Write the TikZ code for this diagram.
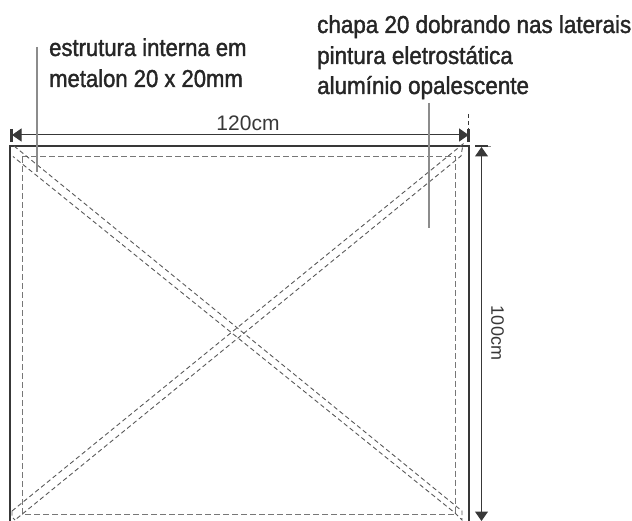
\documentclass[tikz,border=0pt]{standalone}
\usepackage{fontspec}
\setmainfont{Liberation Sans}
\newfontfamily\condfont[FakeStretch=0.90,FakeBold=1.5]{Liberation Sans}
\newfontfamily\widefont[FakeStretch=0.915,FakeBold=1.5]{Liberation Sans}
\usetikzlibrary{arrows.meta}
\definecolor{dk}{gray}{0.22}
\definecolor{gr}{gray}{0.55}
\tikzset{
  x=1pt,y=-1pt,
  note/.style={font=\condfont\fontsize{24.5}{31}\selectfont,align=left,inner sep=0pt,text=black!85,anchor=base west},
  noteb/.style={note,font=\widefont\fontsize{24.5}{31}\selectfont},
  dimlabel/.style={font=\fontsize{21}{23}\selectfont,inner sep=0pt,text=dk},
  dimlabelv/.style={font=\fontsize{18}{20}\selectfont,inner sep=0pt,text=dk},
  frameline/.style={draw=dk,line width=2pt},
  inner dash/.style={draw=gr!85!black,line width=1pt,dash pattern=on 6pt off 3pt},
  diag dash/.style={draw=black!65,line width=.9pt,dash pattern=on 4.5pt off 3pt},
  leader/.style={draw=gr,line width=1.2pt},
  dimline/.style={draw=dk,line width=1pt},
  dimarrow/.style={dimline,{Triangle[length=9.5pt,width=13pt]}-{Triangle[length=9.5pt,width=13pt]}},
  tick/.style={draw=dk,line width=2.4pt}
}
\begin{document}
\begin{tikzpicture}
\useasboundingbox (0,0) rectangle (632,521);
% frame
\coordinate (tl) at (9.5,146.5);
\coordinate (tr) at (468.5,146.5);
\coordinate (bl) at (9.5,521);
\coordinate (br) at (468.5,521);
\draw[frameline,line join=miter] (bl) -- (tl) -- (tr) -- (br);
% inner rectangle
\coordinate (il) at (22,157);
\coordinate (ir) at (455.5,157);
\coordinate (jl) at (22,514);
\coordinate (jr) at (455.5,514);
\draw[inner dash] (il) -- (ir) -- (jr) -- (jl) -- cycle;
% diagonals
\coordinate (a1) at (14,146);
\coordinate (a2) at (462,511);
\coordinate (b1) at (13,156.5);
\coordinate (b2) at (455,513);
\coordinate (c1) at (463,144);
\coordinate (c2) at (12,511);
\coordinate (d1) at (461,156);
\coordinate (d2) at (15,520);
\draw[diag dash] (a1) -- (a2) -- (462,520) -- (b2) -- (b1);
\draw[diag dash] (c2) -- (c1) -- (d1) -- (d2);
\draw[diag dash] (c2) -- (12,517) -- (d2);
% dimension 120cm
\coordinate (h1) at (12,135);
\coordinate (h2) at (468.6,135);
\draw[dimarrow] (h1) -- (h2);
\draw[tick] (11.5,129) -- (11.5,142);
\draw[tick] (468.6,129) -- (468.6,142);
\draw[draw=dk,line width=.8pt,dash pattern=on 4pt off 3pt] (468.6,114) -- (468.6,129);
\node[dimlabel] (wlabel) at (248,123) {120cm};
% dimension 100cm
\coordinate (v1) at (481.5,147);
\coordinate (v2) at (481.5,521);
\draw[dimarrow] (v1) -- (v2);
\draw[tick] (475,146) -- (488,146);
\draw[draw=gr,line width=.8pt] (488,146) -- (491,146);
\node[dimlabelv,rotate=-90] (hlabel) at (497.5,333) {100cm};
% notes
\node[note] (n1) at (49,56) {estrutura interna em};
\node[note] (n1b) at (49,87) {metalon 20 x 20mm};
\node[noteb] (n2) at (317,33) {chapa 20 dobrando nas laterais};
\node[noteb] (n2b) at (317,64) {pintura eletrostática};
\node[noteb] (n2c) at (317,94) {alumínio opalescente};
\coordinate (l1) at (37,47);
\coordinate (l2) at (37,172);
\coordinate (r1) at (429,103);
\coordinate (r2) at (429,228);
\draw[leader] (l1) -- (l2);
\draw[leader] (r1) -- (r2);
\end{tikzpicture}
\end{document}
